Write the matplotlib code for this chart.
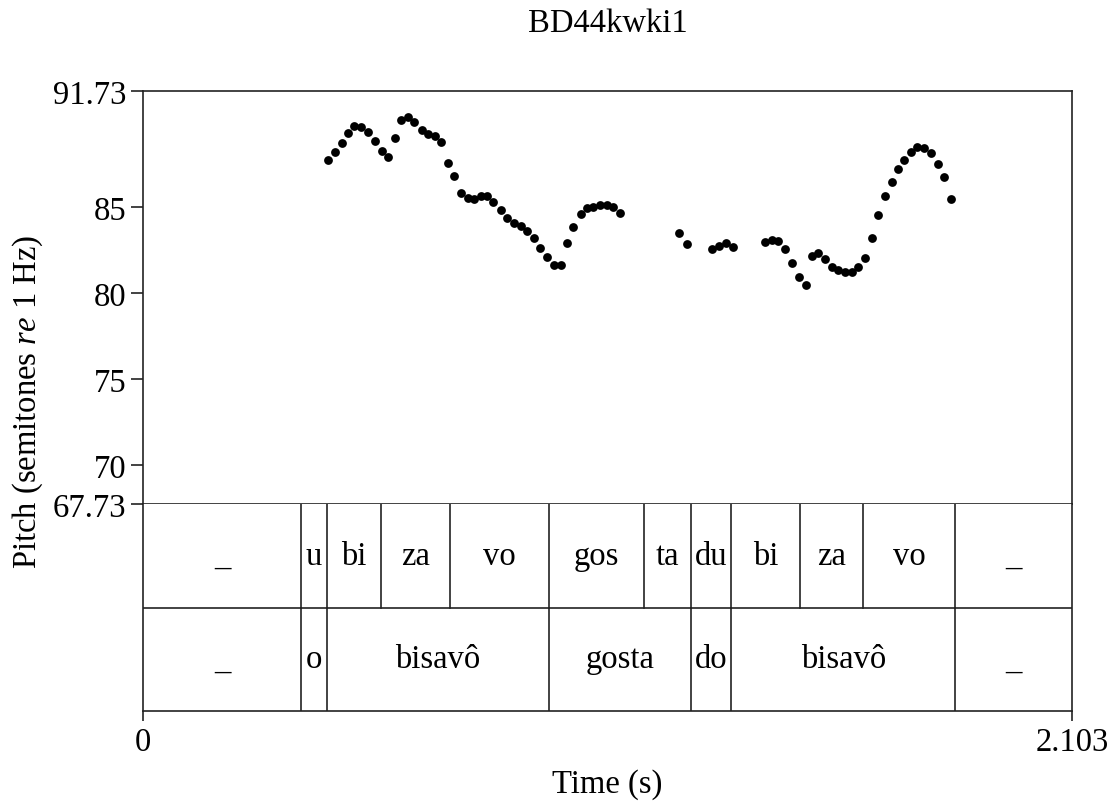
import matplotlib
matplotlib.use("Agg")
import matplotlib.pyplot as plt

plt.rcParams['font.family'] = ['Liberation Serif', 'DejaVu Serif']
plt.rcParams['mathtext.fontset'] = 'custom'
plt.rcParams['mathtext.rm'] = 'Liberation Serif'
plt.rcParams['mathtext.it'] = 'Liberation Serif:italic'

title = "BD44kwki1"
t_max = 2.103
y_min, y_max = 67.73, 91.73
y_ticks = [70, 75, 80, 85]

times = [0.4196, 0.4347, 0.4498, 0.4648, 0.4784, 0.4936, 0.5087, 0.5252, 0.5404, 0.5554,
         0.5705, 0.5834, 0.5993, 0.6143, 0.6309, 0.6460, 0.6611, 0.6747, 0.6898, 0.7041,
         0.7199, 0.7351, 0.7501, 0.7652, 0.7795, 0.7931, 0.8098, 0.8248, 0.8399, 0.8551,
         0.8687, 0.8852, 0.8988, 0.9140, 0.9305, 0.9457, 0.9593, 0.9742, 0.9910, 1.0045,
         1.0195, 1.0346, 1.0498, 1.0648, 1.0799,
         1.2142, 1.2309, 1.2875, 1.3041, 1.3199, 1.3351, 1.4082, 1.4233, 1.4383, 1.4535,
         1.4701, 1.4859, 1.5010, 1.5139, 1.5289, 1.5440, 1.5592, 1.5742, 1.5893, 1.6045,
         1.6194, 1.6346, 1.6497, 1.6633, 1.6799, 1.6950, 1.7100, 1.7236, 1.7387, 1.7530,
         1.7689, 1.7840, 1.8006, 1.8135, 1.8293]
pitch = [87.70, 88.18, 88.70, 89.31, 89.69, 89.63, 89.34, 88.82, 88.22, 87.89,
         89.02, 90.06, 90.21, 89.90, 89.48, 89.25, 89.09, 88.76, 87.57, 86.78,
         85.83, 85.49, 85.43, 85.64, 85.64, 85.29, 84.81, 84.33, 84.04, 83.88,
         83.59, 83.17, 82.59, 82.07, 81.59, 81.59, 82.92, 83.81, 84.58, 84.91,
         85.00, 85.08, 85.12, 84.97, 84.62,
         83.46, 82.84, 82.55, 82.73, 82.92, 82.69, 82.97, 83.07, 83.03, 82.55,
         81.72, 80.91, 80.47, 82.15, 82.30, 81.96, 81.49, 81.30, 81.24, 81.20,
         81.53, 82.05, 83.17, 84.52, 85.62, 86.45, 87.18, 87.74, 88.18, 88.47,
         88.44, 88.13, 87.47, 86.74, 85.45]

syll_bounds = [0, 0.3584, 0.4166, 0.5381, 0.6950, 0.9185, 1.1349, 1.2407, 1.3312,
               1.4881, 1.6307, 1.8390, 2.103]
syll_labels = ["_", "u", "bi", "za", "vo", "gos", "ta", "du", "bi", "za", "vo", "_"]
word_bounds = [0, 0.3584, 0.4166, 0.9185, 1.2407, 1.3312, 1.8390, 2.103]
word_labels = ["_", "o", "bisavô", "gosta", "do", "bisavô", "_"]

W, H = 1115, 803
fig = plt.figure(figsize=(W / 100, H / 100), dpi=100)
left_px, right_px = 143, 1072
top_px, mid_px, bot_px = 92, 505, 712
lw = 1.2
fs = 23.5
col = '#222222'

ax = fig.add_axes([left_px / W, 1 - mid_px / H, (right_px - left_px) / W, (mid_px - top_px) / H])
ax.scatter(times, pitch, s=40, color='black', linewidths=0, zorder=3)
ax.set_xlim(0, t_max)
ax.set_ylim(y_min, y_max)
ax.set_xticks([])
ax.set_yticks(y_ticks + [y_min, y_max])
ax.set_yticklabels([str(v) for v in y_ticks] + [f"{y_min:.2f}", f"{y_max:.2f}"])
ax.tick_params(axis='y', direction='out', length=9, width=lw, labelsize=fs, pad=3, color=col)
for s in ax.spines.values():
    s.set_linewidth(lw)
    s.set_color(col)

ax2 = fig.add_axes([left_px / W, 1 - bot_px / H, (right_px - left_px) / W, (bot_px - mid_px) / H])
ax2.set_xlim(0, t_max)
ax2.set_ylim(0, 2)
ax2.set_yticks([])
ax2.set_xticks([0, t_max])
ax2.set_xticklabels(["0", f"{t_max:.3f}"])
ax2.tick_params(axis='x', direction='out', length=7, width=lw, labelsize=fs, pad=4, color=col)
ax2.spines['top'].set_visible(False)
for s in ax2.spines.values():
    s.set_linewidth(lw)
    s.set_color(col)
ax2.axhline(1, color=col, lw=lw)

for bounds, labels, y0 in [(syll_bounds, syll_labels, 1), (word_bounds, word_labels, 0)]:
    for b in bounds[1:-1]:
        ax2.plot([b, b], [y0, y0 + 1], color=col, lw=lw)
    for i, lab in enumerate(labels):
        ax2.text((bounds[i] + bounds[i + 1]) / 2, y0 + 0.5, lab, ha='center', va='center',
                 fontsize=fs)

fig.text((left_px + right_px) / 2 / W, 1 - 793 / H, "Time (s)", ha='center', va='baseline',
         fontsize=fs)
fig.text(28 / W, 1 - 402 / H, r"Pitch (semitones $\mathit{re}$ 1 Hz)", rotation=90,
         ha='center', va='center', fontsize=fs)
fig.text((left_px + right_px) / 2 / W, 1 - 32 / H, title, ha='center', va='baseline', fontsize=fs)

fig.savefig("out.png", dpi=100)
